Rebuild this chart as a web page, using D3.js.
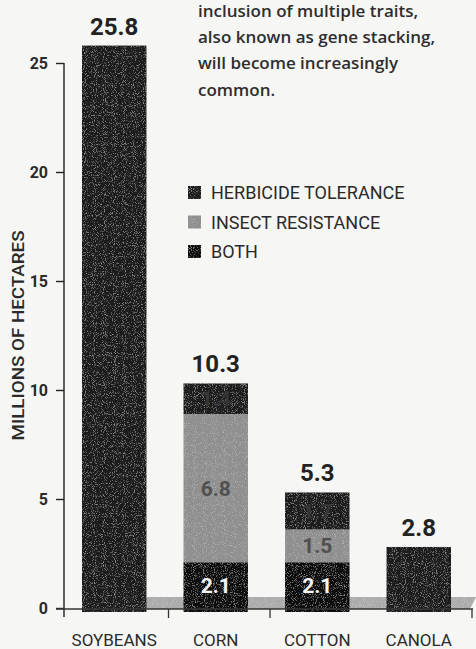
<!DOCTYPE html>
<html>
<head>
<meta charset="utf-8">
<script src="https://cdn.jsdelivr.net/npm/d3@7"></script>
<style>
  body { margin: 0; background: #f6f6f4; }
  svg { display: block; }
</style>
</head>
<body>
<svg id="chart" width="476" height="649"></svg>
<script>
// hectares per crop, split by trait
const crops = ['SOYBEANS', 'CORN', 'COTTON', 'CANOLA'];
const totals = [25.8, 10.3, 5.3, 2.8];
const both = [0, 2.1, 2.1, 0];
const insect = [0, 6.8, 1.5, 0];
const herbicide = [25.8, 1.4, 1.7, 2.8];
const yTicks = [0, 5, 10, 15, 20, 25];
const legendItems = ['HERBICIDE TOLERANCE', 'INSECT RESISTANCE', 'BOTH'];
const note = ['inclusion of multiple traits,', 'also known as gene stacking,', 'will become increasingly', 'common.'];

const cond = "Roboto, 'DejaVu Sans', sans-serif";

const svg = d3.select('#chart');

const rows = crops.map((c, i) => ({ crop: c, both: both[i], insect: insect[i], herbicide: herbicide[i], total: totals[i] }));
const keys = ['both', 'insect', 'herbicide'];
const fill = { both: '#0b0b0b', insect: '#8f8f8f', herbicide: '#1d1d1d' };
const textFill = { both: '#f5f5f5', insect: '#505050', herbicide: '#363636' };
const legendKey = { 'HERBICIDE TOLERANCE': 'herbicide', 'INSECT RESISTANCE': 'insect', BOTH: 'both' };

const x = d3.scaleBand()
  .domain(crops)
  .range([82, 451])
  .paddingInner(0.365)
  .paddingOuter(0);

const y = d3.scaleLinear()
  .domain([0, 25])
  .range([608, 63]);

// speckled print texture
const defs = svg.append('defs');
const speckle = defs.append('filter').attr('id', 'speckle')
  .attr('x', 0).attr('y', 0).attr('width', 1).attr('height', 1);
speckle.append('feTurbulence')
  .attr('type', 'fractalNoise').attr('baseFrequency', 1.1)
  .attr('numOctaves', 1).attr('seed', 4).attr('result', 'noise');
speckle.append('feColorMatrix').attr('in', 'noise').attr('type', 'matrix')
  .attr('values', '0 0 0 0 1  0 0 0 0 1  0 0 0 0 1  3.4 0 0 0 -1.85')
  .attr('result', 'dots');
speckle.append('feComposite').attr('in', 'dots').attr('in2', 'SourceGraphic')
  .attr('operator', 'in').attr('result', 'clipped');
speckle.append('feComponentTransfer').attr('in', 'clipped').attr('result', 'soft')
  .append('feFuncA').attr('type', 'linear').attr('slope', 0.34);
const merge = speckle.append('feMerge');
merge.append('feMergeNode').attr('in', 'SourceGraphic');
merge.append('feMergeNode').attr('in', 'soft');

// note text top right
svg.append('g')
  .selectAll('text')
  .data(note)
  .enter()
  .append('text')
  .attr('x', 198)
  .attr('y', (d, i) => 17 + i * 26.2)
  .attr('font-family', "'Open Sans', 'DejaVu Sans', sans-serif")
  .attr('font-size', '17px')
  .attr('font-weight', 600)
  .attr('fill', '#2e2e2e')
  .text(d => d);

// ground strip behind bars
svg.append('polygon')
  .attr('points', [[86, 609], [470, 609], [476, 597], [98, 597]].map(p => p.join(',')).join(' '))
  .attr('fill', '#ababab')
  .attr('filter', 'url(#speckle)');

// y axis
const yAxis = d3.axisLeft(y).tickValues(yTicks).tickSize(8).tickPadding(8);
const ga = svg.append('g')
  .attr('transform', 'translate(64,0)')
  .call(yAxis);
ga.select('.domain').attr('d', `M0,${y(25)}V${y(0) + 9}`).attr('stroke', '#222').attr('stroke-width', 1.4);
ga.selectAll('.tick line').attr('stroke', '#222').attr('stroke-width', 1.4);
ga.selectAll('.tick text')
  .attr('font-family', cond)
  .attr('font-size', '16px')
  .attr('font-weight', 'bold')
  .attr('fill', '#2a2a2a');

// narrow, tall lettering like the printed label
svg.append('text')
  .attr('transform', `translate(24,${(y(10) + y(15)) / 2}) rotate(-90)`)
  .attr('text-anchor', 'middle')
  .attr('font-family', cond)
  .attr('font-size', '16px')
  .attr('font-weight', 500)
  .attr('textLength', 210)
  .attr('lengthAdjust', 'spacingAndGlyphs')
  .attr('fill', '#2a2a2a')
  .text('MILLIONS OF HECTARES');

// stacked bars
const stacked = d3.stack().keys(keys)(rows);
const layer = svg.append('g')
  .selectAll('g')
  .data(stacked)
  .enter()
  .append('g')
  .attr('fill', d => fill[d.key]);

layer.selectAll('rect')
  .data(d => d.filter(s => s[1] > s[0]))
  .enter()
  .append('rect')
  .attr('x', d => x(d.data.crop))
  .attr('width', x.bandwidth())
  .attr('y', d => y(d[1]))
  .attr('height', d => y(d[0]) - y(d[1]) + (d[0] === 0 ? 4 : 0))
  .attr('filter', 'url(#speckle)');

// numbers inside the segments of multi-trait bars
layer.each(function (s) {
  d3.select(this).selectAll('text')
    .data(s.filter(d => d[1] > d[0] && d[1] - d[0] < d.data.total))
    .enter()
    .append('text')
    .attr('x', d => x(d.data.crop) + x.bandwidth() / 2)
    .attr('y', d => (y(d[0]) + y(d[1])) / 2)
    .attr('dy', '0.36em')
    .attr('text-anchor', 'middle')
    .attr('font-family', cond)
    .attr('font-size', '21px')
    .attr('font-weight', 'bold')
    .attr('fill', textFill[s.key])
    .text(d => d3.format('.1f')(d[1] - d[0]));
});

// totals above bars
svg.append('g')
  .selectAll('text')
  .data(rows)
  .enter()
  .append('text')
  .attr('x', d => x(d.crop) + x.bandwidth() / 2)
  .attr('y', d => y(d.total) - 11)
  .attr('text-anchor', 'middle')
  .attr('font-family', cond)
  .attr('font-size', '24px')
  .attr('font-weight', 'bold')
  .attr('fill', '#222')
  .text(d => d3.format('.1f')(d.total));

// baseline with a few drop ticks
svg.append('line')
  .attr('x1', 56).attr('x2', 473)
  .attr('y1', y(0) + 1).attr('y2', y(0) + 1)
  .attr('stroke', '#333').attr('stroke-width', 1.3);
svg.append('g')
  .selectAll('line')
  .data([x('CORN') - 15, x('COTTON') - 15, x('CANOLA') + x.bandwidth() + 21])
  .enter()
  .append('line')
  .attr('x1', d => d).attr('x2', d => d)
  .attr('y1', y(0) + 1).attr('y2', y(0) + 10)
  .attr('stroke', '#333').attr('stroke-width', 1.3);

// category labels
svg.append('g')
  .selectAll('text')
  .data(crops)
  .enter()
  .append('text')
  .attr('x', d => x(d) + x.bandwidth() / 2)
  .attr('y', 646)
  .attr('text-anchor', 'middle')
  .attr('font-family', cond)
  .attr('font-size', '17px')
  .attr('fill', '#2a2a2a')
  .text(d => d);

// legend
const lg = svg.append('g').attr('transform', 'translate(188,186)');
const item = lg.selectAll('g')
  .data(legendItems)
  .enter()
  .append('g')
  .attr('transform', (d, i) => `translate(0,${i * 29.5})`);
item.append('rect')
  .attr('width', 13).attr('height', 13)
  .attr('fill', d => fill[legendKey[d]])
  .attr('filter', 'url(#speckle)');
item.append('text')
  .attr('x', 23)
  .attr('y', 7)
  .attr('dy', '0.36em')
  .attr('font-family', cond)
  .attr('font-size', '18px')
  .attr('fill', '#2a2a2a')
  .text(d => d);
</script>
</body>
</html>
